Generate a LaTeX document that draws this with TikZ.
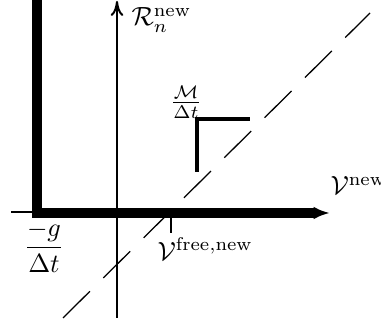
\documentclass[tikz,border=0pt]{standalone}
\usepackage{amsmath,amssymb}
\usepackage{tikz}
\usetikzlibrary{arrows.meta}
\newcommand{\vel}[1]{\mathcal{V}^{\mathrm{#1}}}

\begin{document}
\begin{tikzpicture}[x=0.38pt,y=-0.38pt,
  axis/.style={line width=0.76pt},
  bound/.style={line width=3.6pt,line join=miter},
  stepline/.style={line width=1.15pt},
  diag/.style={line width=0.48pt,dash pattern=on 14.4pt off 7.2pt}]
\useasboundingbox (0,0) rectangle (381,323);
% axes
\draw[axis,-{To[length=5.7pt,width=4.8pt]}] (117,318) -- (117,1);
\draw[bound,-{Latex[length=6.2pt,width=4.8pt]}] (37,-10) -- (37,213) -- (330,213);
\draw[axis] (11,212) -- (37,212);
% diagonal and step
\draw[diag] (63,318) -- (370,13);
\draw[stepline] (197,172) -- (197,119) -- (250,119);
\draw[axis] (171,217) -- (171,233);
% labels
\node[anchor=west,inner sep=0pt] (rn) at (131,20) {$\mathcal{R}_n^{\mathrm{new}}$};
\node[inner sep=0pt] (mdt) at (186,102) {$\frac{\mathcal{M}}{\Delta t}$};
\node[anchor=west,inner sep=0pt] (vn) at (330,186) {$\vel{new}$};
\node[anchor=west,inner sep=0pt] (vf) at (157,249) {$\vel{free,new}$};
\node[inner sep=0pt] (gdt) at (44,247) {$\dfrac{-g}{\Delta t}$};
\end{tikzpicture}
\end{document}
